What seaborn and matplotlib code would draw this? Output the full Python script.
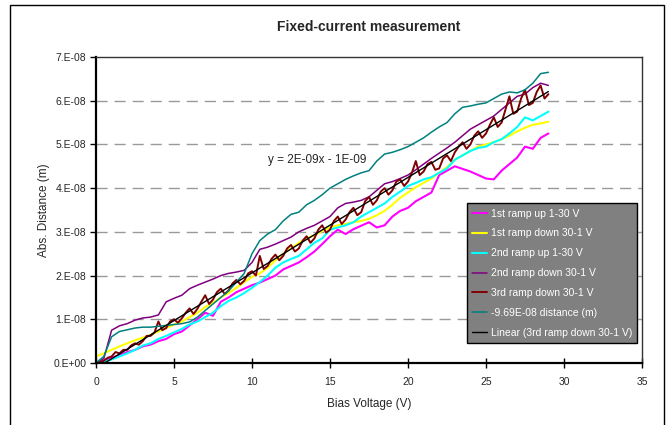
import numpy as np
import pandas as pd
import seaborn as sns
import matplotlib.pyplot as plt
from matplotlib.patches import Rectangle

OUT = "out.png"
SCALE = 1e-8  # series below are in units of 1E-08 m

volts = [
    0.0, 0.5, 1.0, 1.5, 2.0, 2.5, 3.0, 3.5, 4.0, 4.5,
    5.0, 5.5, 6.0, 6.5, 7.0, 7.5, 8.0, 8.5, 9.0, 9.5,
    10.0, 10.5, 11.0, 11.5, 12.0, 12.5, 13.0, 13.5, 14.0, 14.5,
    15.0, 15.5, 16.0, 16.5, 17.0, 17.5, 18.0, 18.5, 19.0, 19.5,
    20.0, 20.5, 21.0, 21.5, 22.0, 22.5, 23.0, 23.5, 24.0, 24.5,
    25.0, 25.5, 26.0, 26.5, 27.0, 27.5, 28.0, 28.5, 29.0,
]

# 3rd ramp was logged on a finer voltage step
volts_fine = [
    0.0, 0.25, 0.5, 0.75, 1.0, 1.25, 1.5, 1.75, 2.0, 2.25,
    2.5, 2.75, 3.0, 3.25, 3.5, 3.75, 4.0, 4.25, 4.5, 4.75,
    5.0, 5.25, 5.5, 5.75, 6.0, 6.25, 6.5, 6.75, 7.0, 7.25,
    7.5, 7.75, 8.0, 8.25, 8.5, 8.75, 9.0, 9.25, 9.5, 9.75,
    10.0, 10.25, 10.5, 10.75, 11.0, 11.25, 11.5, 11.75, 12.0, 12.25,
    12.5, 12.75, 13.0, 13.25, 13.5, 13.75, 14.0, 14.25, 14.5, 14.75,
    15.0, 15.25, 15.5, 15.75, 16.0, 16.25, 16.5, 16.75, 17.0, 17.25,
    17.5, 17.75, 18.0, 18.25, 18.5, 18.75, 19.0, 19.25, 19.5, 19.75,
    20.0, 20.25, 20.5, 20.75, 21.0, 21.25, 21.5, 21.75, 22.0, 22.25,
    22.5, 22.75, 23.0, 23.25, 23.5, 23.75, 24.0, 24.25, 24.5, 24.75,
    25.0, 25.25, 25.5, 25.75, 26.0, 26.25, 26.5, 26.75, 27.0, 27.25,
    27.5, 27.75, 28.0, 28.25, 28.5, 28.75, 29.0,
]

ramp1_up = [
    0.00, 0.05, 0.12, 0.18, 0.25, 0.30, 0.38, 0.42, 0.50, 0.55,
    0.66, 0.72, 0.86, 1.00, 1.15, 1.08, 1.40, 1.50, 1.62, 1.70,
    1.78, 1.84, 1.92, 2.00, 2.14, 2.22, 2.30, 2.42, 2.55, 2.72,
    2.90, 3.05, 2.95, 3.06, 3.14, 3.22, 3.10, 3.15, 3.35, 3.48,
    3.55, 3.70, 3.80, 3.90, 4.30, 4.40, 4.50, 4.44, 4.38, 4.30,
    4.22, 4.20, 4.40, 4.55, 4.70, 4.95, 4.90, 5.15, 5.25,
]
ramp1_down = [
    0.15, 0.22, 0.30, 0.38, 0.45, 0.52, 0.58, 0.64, 0.72, 0.80,
    0.88, 0.95, 1.05, 1.15, 1.28, 1.38, 1.50, 1.60, 1.72, 1.85,
    1.97, 2.05, 2.18, 2.35, 2.50, 2.62, 2.75, 2.85, 2.92, 3.02,
    3.10, 3.15, 3.18, 3.22, 3.25, 3.30, 3.38, 3.48, 3.62, 3.78,
    3.90, 4.02, 4.12, 4.22, 4.35, 4.48, 4.65, 4.75, 4.85, 4.95,
    5.00, 5.05, 5.12, 5.20, 5.30, 5.38, 5.45, 5.48, 5.52,
]
ramp2_up = [
    0.00, 0.03, 0.08, 0.15, 0.22, 0.30, 0.40, 0.45, 0.55, 0.62,
    0.70, 0.78, 0.88, 0.95, 1.05, 1.15, 1.30, 1.42, 1.50, 1.60,
    1.72, 1.85, 2.00, 2.18, 2.30, 2.38, 2.45, 2.60, 2.75, 2.85,
    3.05, 3.10, 3.15, 3.22, 3.35, 3.45, 3.55, 3.65, 3.80, 3.92,
    4.05, 4.12, 4.20, 4.25, 4.35, 4.45, 4.65, 4.75, 4.85, 4.92,
    4.95, 5.05, 5.12, 5.25, 5.40, 5.62, 5.55, 5.65, 5.75,
]
ramp2_down = [
    0.00, 0.10, 0.75, 0.85, 0.90, 0.98, 1.03, 1.05, 1.10, 1.40,
    1.48, 1.55, 1.70, 1.78, 1.85, 1.92, 2.00, 2.05, 2.08, 2.12,
    2.30, 2.60, 2.65, 2.72, 2.80, 2.88, 3.00, 3.08, 3.15, 3.25,
    3.35, 3.55, 3.65, 3.68, 3.72, 3.80, 3.95, 4.10, 4.15, 4.22,
    4.30, 4.42, 4.55, 4.68, 4.80, 4.92, 5.05, 5.20, 5.35, 5.45,
    5.55, 5.65, 5.80, 5.95, 6.10, 6.15, 6.30, 6.40, 6.35,
]
ramp3_down = [
    0.00, 0.02, 0.05, 0.12, 0.15, 0.25, 0.22, 0.30, 0.30, 0.40,
    0.45, 0.42, 0.50, 0.62, 0.62, 0.70, 0.95, 0.75, 0.80, 0.95,
    1.00, 0.92, 1.02, 1.15, 1.25, 1.12, 1.24, 1.40, 1.55, 1.35,
    1.45, 1.62, 1.70, 1.58, 1.66, 1.82, 1.90, 1.80, 1.88, 2.05,
    2.10, 2.00, 2.45, 2.15, 2.22, 2.38, 2.48, 2.35, 2.45, 2.62,
    2.70, 2.55, 2.62, 2.80, 2.90, 2.75, 2.85, 3.05, 3.15, 2.98,
    3.05, 3.25, 3.35, 3.18, 3.28, 3.45, 3.55, 3.38, 3.45, 3.70,
    3.80, 3.62, 3.72, 3.92, 4.00, 3.85, 3.95, 4.15, 4.20, 4.05,
    4.15, 4.35, 4.62, 4.30, 4.38, 4.55, 4.60, 4.42, 4.45, 4.68,
    4.75, 4.62, 4.82, 4.95, 5.05, 4.90, 5.00, 5.20, 5.30, 5.15,
    5.25, 5.45, 5.62, 5.40, 5.50, 5.80, 6.10, 5.70, 5.75, 6.05,
    6.25, 5.90, 5.95, 6.20, 6.35, 6.05, 6.15,
]
distance = [
    0.00, 0.15, 0.60, 0.72, 0.76, 0.80, 0.82, 0.82, 0.84, 0.86,
    0.88, 0.90, 0.94, 1.05, 1.20, 1.35, 1.50, 1.65, 1.85, 2.05,
    2.50, 2.80, 2.95, 3.05, 3.25, 3.40, 3.45, 3.62, 3.72, 3.85,
    4.00, 4.10, 4.20, 4.28, 4.35, 4.40, 4.62, 4.78, 4.82, 4.88,
    4.95, 5.05, 5.15, 5.28, 5.40, 5.50, 5.70, 5.85, 5.88, 5.92,
    5.95, 6.05, 6.15, 6.20, 6.18, 6.25, 6.40, 6.62, 6.65,
]

series = [
    ("1st ramp up 1-30 V", volts, ramp1_up, "#FF00FF", 1.5),
    ("1st ramp down 30-1 V", volts, ramp1_down, "#FFFF00", 1.5),
    ("2nd ramp up 1-30 V", volts, ramp2_up, "#00FFFF", 1.5),
    ("2nd ramp down 30-1 V", volts, ramp2_down, "#800080", 1.1),
    ("3rd ramp down 30-1 V", volts_fine, ramp3_down, "#800000", 1.4),
    ("-9.69E-08 distance (m)", volts, distance, "#008080", 1.1),
]

y_ticks = [0, 1, 2, 3, 4, 5, 6, 7]
y_tick_labels = ["0.E+00", "1.E-08", "2.E-08", "3.E-08",
                 "4.E-08", "5.E-08", "6.E-08", "7.E-08"]
x_ticks = [0, 5, 10, 15, 20, 25, 30, 35]


def main():
    sns.set_theme(style="white")
    plt.rcParams["font.family"] = ["Liberation Sans", "DejaVu Sans"]

    fig = plt.figure(figsize=(6.66, 4.25), dpi=100)
    ax = fig.add_axes([96 / 666, 1 - 363 / 425, 546 / 666, 306 / 425])

    for label, xs, vals, color, lw in series:
        df = pd.DataFrame({"V": xs, "d": np.array(vals) * SCALE})
        sns.lineplot(data=df, x="V", y="d", color=color, lw=lw,
                     label=label, ax=ax, sort=False)

    sns.regplot(x=np.array(volts_fine), y=np.array(ramp3_down) * SCALE,
                scatter=False, ci=None, color="black",
                line_kws=dict(lw=1.0), label="Linear (3rd ramp down 30-1 V)",
                ax=ax)

    ax.set_xlim(0, 35)
    ax.set_ylim(0, 7 * SCALE)
    ax.set_xticks(x_ticks)
    ax.set_xticklabels([str(t) for t in x_ticks], fontsize=7.5)
    ax.set_yticks([t * SCALE for t in y_ticks])
    ax.set_yticklabels(y_tick_labels, fontsize=7.5)
    ax.tick_params(axis="x", direction="inout", length=7, width=1, pad=6.5,
                   color="black", bottom=True)
    ax.tick_params(axis="y", direction="out", length=4, width=1, pad=3,
                   color="black", left=True)

    for t in y_ticks[1:-1]:
        ax.axhline(t * SCALE, color="#999999", lw=1, ls=(0, (8, 5)), zorder=0)

    for side in ["left", "bottom"]:
        ax.spines[side].set_color("black")
        ax.spines[side].set_linewidth(1.6)
    for side in ["top", "right"]:
        ax.spines[side].set_color("#333333")
        ax.spines[side].set_linewidth(1.0)

    ax.set_xlabel("Bias Voltage (V)", fontsize=8.5, labelpad=8)
    ax.set_ylabel("Abs. Distance (m)", fontsize=8.5, labelpad=2)

    ax.text(14.2, 4.64 * SCALE, "y = 2E-09x - 1E-09", fontsize=8.5,
            ha="center", va="center")

    leg = ax.legend(loc="lower right", bbox_to_anchor=(0.991, 0.065),
                    borderaxespad=0, fontsize=7.5, frameon=True,
                    fancybox=False, framealpha=1, facecolor="#808080",
                    edgecolor="black", handlelength=1.5, handletextpad=0.3,
                    labelspacing=0.95, borderpad=0.5)
    for txt in leg.get_texts():
        txt.set_color("white")
    leg.get_frame().set_linewidth(1.0)

    fig.text(369 / 666, 1 - 27 / 425, "Fixed-current measurement",
             fontsize=10, fontweight="bold", ha="center", va="center")

    fig.patches.append(Rectangle((10 / 666, -0.02), 654 / 666, 1 - 5 / 425 + 0.02,
                                 transform=fig.transFigure, fill=False,
                                 edgecolor="black", lw=1.0))

    fig.savefig(OUT, dpi=100)


if __name__ == "__main__":
    main()
